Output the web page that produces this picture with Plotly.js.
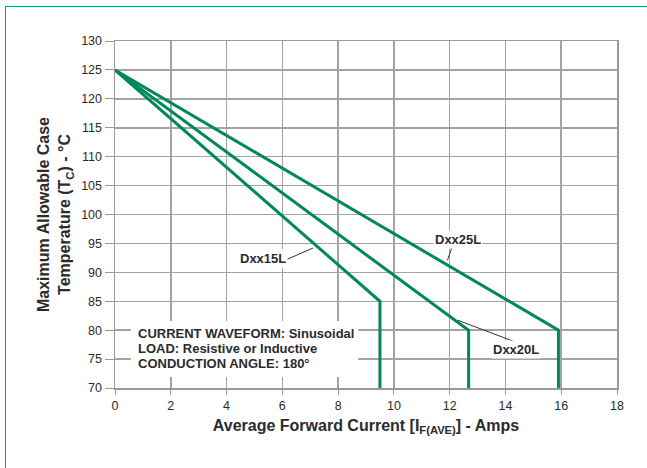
<!DOCTYPE html>
<html>
<head>
<meta charset="utf-8">
<script src="https://cdn.plot.ly/plotly-3.0.1.min.js"></script>
<style>
  html, body { margin: 0; padding: 0; background: #fff; }
  #wrap { position: relative; width: 647px; height: 468px; overflow: hidden; }
  #chart { position: absolute; left: 0; top: 0; width: 647px; height: 468px; }
  #frame { position: absolute; left: 5px; top: 5.5px; width: 700px; height: 500px;
           border-top: 1.5px solid #1b9a6c; border-left: 1.5px solid #1b9a6c; pointer-events: none; }
</style>
</head>
<body>
<div id="wrap">
  <div id="chart"></div>
  <div id="frame"></div>
</div>
<script>
// Data
const seriesNames = ["Dxx15L", "Dxx20L", "Dxx25L"];
const dxx15L_x = [0, 9.5, 9.5];
const dxx15L_y = [125, 85, 70];
const dxx20L_x = [0, 12.68, 12.68];
const dxx20L_y = [125, 80, 70];
const dxx25L_x = [0, 15.9, 15.9];
const dxx25L_y = [125, 80, 70];
const xTicks = [0, 2, 4, 6, 8, 10, 12, 14, 16, 18];
const yTicks = [70, 75, 80, 85, 90, 95, 100, 105, 110, 115, 120, 125, 130];
const noteLines = ["CURRENT WAVEFORM: Sinusoidal", "LOAD: Resistive or Inductive", "CONDUCTION ANGLE: 180°"];

const green = "#00875a";
const gridC = "#a3a3a3";
const textC = "#2b2b2b";
const font = "Liberation Sans, Arial, Helvetica, sans-serif";

const xs = [dxx15L_x, dxx20L_x, dxx25L_x];
const ys = [dxx15L_y, dxx20L_y, dxx25L_y];
const traces = seriesNames.map((n, i) => ({
  type: "scatter", mode: "lines", name: n,
  x: xs[i], y: ys[i],
  line: { color: green, width: 3 },
  hoverinfo: "skip"
}));

const labelFont = { family: font, size: 13, color: textC, weight: "bold" };
const noteY = [79.5, 76.85, 74.25];

const annotations = [
  { x: 5.29, y: 92.4, xref: "x", yref: "y", text: "<b>" + seriesNames[0] + "</b>", showarrow: false,
    font: labelFont, bgcolor: "#fff", borderpad: 1 },
  { x: 14.39, y: 76.66, xref: "x", yref: "y", text: "<b>" + seriesNames[1] + "</b>", showarrow: false,
    font: labelFont, bgcolor: "#fff", borderpad: 1 },
  { x: 12.3, y: 95.6, xref: "x", yref: "y", text: "<b>" + seriesNames[2] + "</b>", showarrow: false,
    font: labelFont, bgcolor: "#fff", borderpad: 1 }
].concat(noteLines.map((t, i) => ({
  x: 0.74, y: noteY[i], xref: "x", yref: "y", xanchor: "left", yanchor: "middle", align: "left",
  text: "<b>" + t + "</b>", showarrow: false, font: labelFont
})));

const layout = {
  width: 647, height: 468,
  margin: { l: 115, r: 30, t: 41, b: 80 },
  paper_bgcolor: "#fff", plot_bgcolor: "#fff",
  showlegend: false,
  font: { family: font, color: textC },
  xaxis: {
    range: [0, 18], tickvals: xTicks, ticktext: xTicks.map(String),
    showgrid: true, gridcolor: gridC, gridwidth: 1.5,
    showline: true, linecolor: "#999", linewidth: 1.5, mirror: true,
    ticks: "outside", ticklen: 5, tickcolor: "#999", tickwidth: 1,
    tickfont: { family: font, size: 12.5, color: textC },
    zeroline: false, fixedrange: true,
    title: { text: "<b>Average Forward Current [I<sub>F(AVE)</sub>] - Amps</b>",
             font: { family: font, size: 16, color: textC }, standoff: 8 }
  },
  yaxis: {
    range: [70, 130], tickvals: yTicks, ticktext: yTicks.map(String),
    showgrid: true, gridcolor: gridC, gridwidth: 1.5,
    showline: true, linecolor: "#999", linewidth: 1.5, mirror: true,
    ticks: "outside", ticklen: 9, tickcolor: "#999", tickwidth: 1,
    tickfont: { family: font, size: 12.5, color: textC },
    zeroline: false, fixedrange: true,
    title: { text: "<b>Maximum Allowable Case<br>Temperature (T<sub>C</sub>) - °C</b>",
             font: { family: font, size: 16, color: textC }, standoff: 6 }
  },
  annotations: annotations,
  shapes: [
    { type: "rect", xref: "x", yref: "y", x0: 0.57, y0: 71.9, x1: 8.72, y1: 81.6,
      fillcolor: "#fff", line: { width: 0 }, layer: "above" },
    { type: "line", xref: "x", yref: "y", x0: 6.15, y0: 92.2, x1: 7.1, y1: 94.2,
      line: { color: "#333", width: 1 } },
    { type: "line", xref: "x", yref: "y", x0: 12.3, y0: 81.7, x1: 14.33, y1: 78.0,
      line: { color: "#333", width: 1 } },
    { type: "line", xref: "x", yref: "y", x0: 12.09, y0: 94.4, x1: 11.92, y1: 92.1,
      line: { color: "#333", width: 1 } }
  ]
};

Plotly.newPlot("chart", traces, layout, { displayModeBar: false, staticPlot: true });
</script>
</body>
</html>
